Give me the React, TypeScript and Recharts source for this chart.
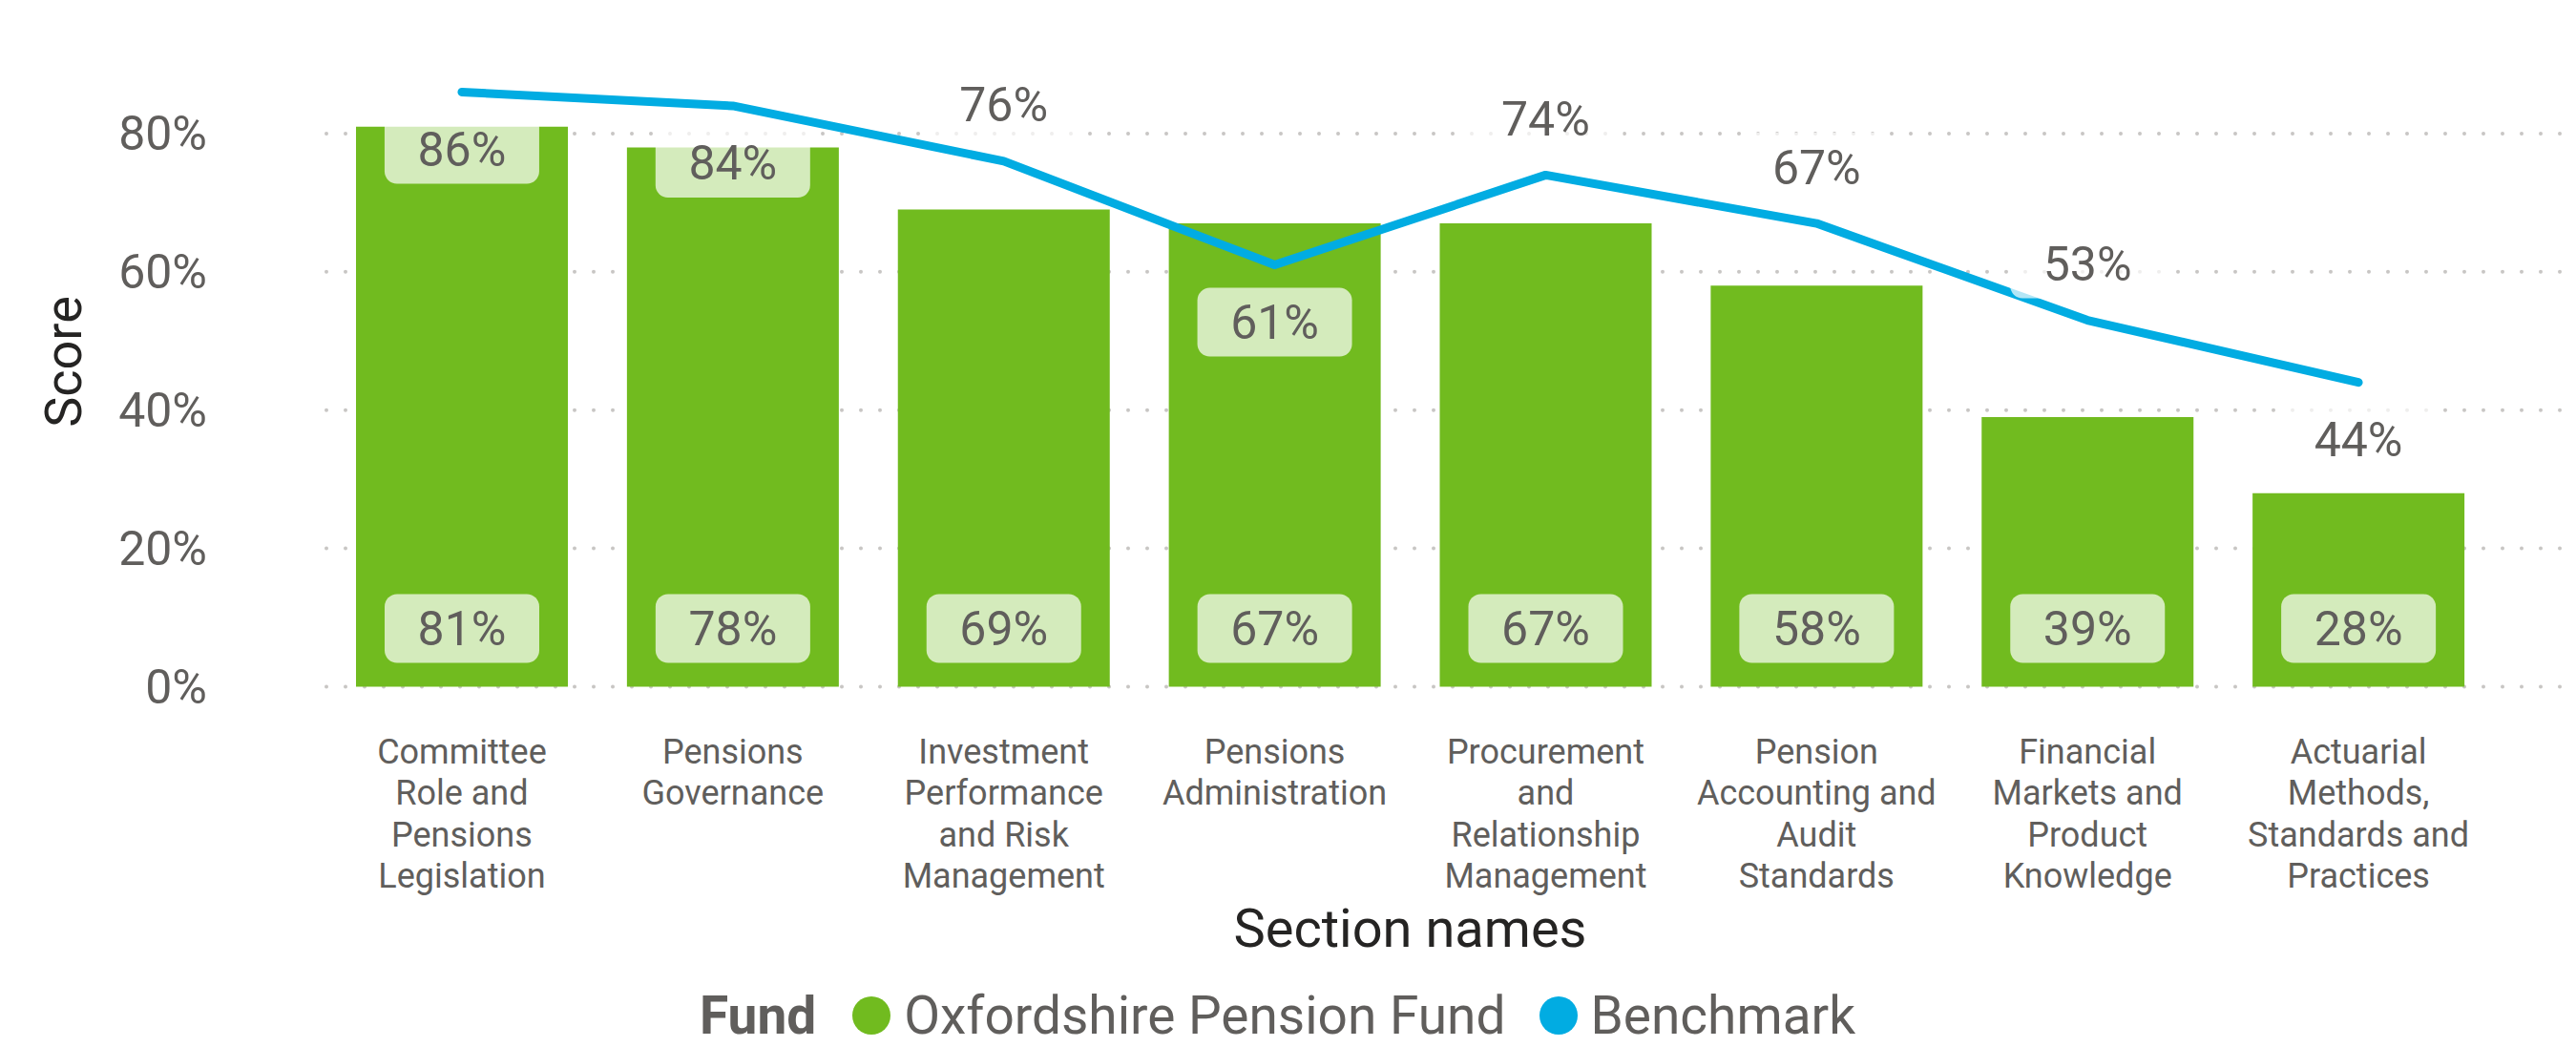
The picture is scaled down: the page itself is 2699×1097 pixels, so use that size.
import React from 'react';
import {
  ComposedChart,
  Bar,
  Line,
  XAxis,
  YAxis,
  CartesianGrid,
  LabelList,
  Legend,
  Label,
} from 'recharts';

// ---------- data ----------
const categoryLines: string[][] = [
  ['Committee', 'Role and', 'Pensions', 'Legislation'],
  ['Pensions', 'Governance'],
  ['Investment', 'Performance', 'and Risk', 'Management'],
  ['Pensions', 'Administration'],
  ['Procurement', 'and', 'Relationship', 'Management'],
  ['Pension', 'Accounting and', 'Audit', 'Standards'],
  ['Financial', 'Markets and', 'Product', 'Knowledge'],
  ['Actuarial', 'Methods,', 'Standards and', 'Practices'],
];
const categories: string[] = categoryLines.map((l) => l.join(' '));
const fundScores: number[] = [81, 78, 69, 67, 67, 58, 39, 28];
const benchmarkScores: number[] = [86, 84, 76, 61, 74, 67, 53, 44];
const yTicks: number[] = [0, 20, 40, 60, 80];

const seriesNames = { fund: 'Oxfordshire Pension Fund', benchmark: 'Benchmark' };
const legendOrder: string[] = [seriesNames.fund, seriesNames.benchmark];
const legendTitle = 'Fund';
const xTitle = 'Section names';
const yTitle = 'Score';

const data = categories.map((name, i) => ({
  name,
  fund: fundScores[i],
  benchmark: benchmarkScores[i],
}));

// ---------- style ----------
const FONT = 'Roboto, "Noto Sans", sans-serif';
const FUND_COLOR = '#71bb1f';
const BENCH_COLOR = '#01ace2';
const LABEL_COLOR = '#605e5c';
const TITLE_COLOR = '#252423';
const W = 2699;
const H = 1097;
const RIGHT_PAD = 86;

const pct = (v: number) => `${v}%`;

const ValueBox = ({ cx, cy, text }: any) => (
  <g>
    <rect x={cx - 81} y={cy - 36} width={162} height={72} rx={13} ry={13} fill="#ffffff" fillOpacity={0.7} />
    <text x={cx} y={cy} dy="0.35em" textAnchor="middle" fontSize={50} fill={LABEL_COLOR} fontFamily={FONT}>
      {text}
    </text>
  </g>
);

const FundLabel = (props: any) => {
  const x = props.x ?? props.viewBox?.x;
  const y = props.y ?? props.viewBox?.y;
  const width = props.width ?? props.viewBox?.width;
  const height = props.height ?? props.viewBox?.height;
  if (x == null || y == null) return null;
  return <ValueBox cx={x + width / 2} cy={y + height - 61} text={pct(props.value)} />;
};

// place the benchmark label below the point when it is near the top or at a valley
const benchLabelBelow = (i: number) => {
  const v = benchmarkScores[i];
  if (v >= 80) return true;
  const prev = benchmarkScores[i - 1];
  const next = benchmarkScores[i + 1];
  return (prev === undefined || v < prev) && (next === undefined || v < next);
};

const BenchLabel = (props: any) => {
  const { x, y, value, index } = props;
  if (x == null || y == null) return null;
  const below = benchLabelBelow(index);
  return <ValueBox cx={x} cy={below ? y + 60 : y - 59} text={pct(value)} />;
};

const XTick = (props: any) => {
  const { x, y, payload } = props;
  const lines = categoryLines[payload.index] || [String(payload.value)];
  return (
    <text x={x} y={y} textAnchor="middle" fontSize={36} fill={LABEL_COLOR} fontFamily={FONT}>
      {lines.map((l, i) => (
        <tspan key={i} x={x} dy={i === 0 ? 80.5 : 43.3}>
          {l}
        </tspan>
      ))}
    </text>
  );
};

const YTick = (props: any) => {
  const { x, y, payload } = props;
  return (
    <text x={x} y={y} dy="0.35em" textAnchor="end" fontSize={50} fill={LABEL_COLOR} fontFamily={FONT}>
      {pct(payload.value)}
    </text>
  );
};

const YTitle = (props: any) => {
  const vb = props.viewBox || {};
  const cx = 66;
  const cy = (vb.y ?? 0) + (vb.height ?? 0) / 2;
  return (
    <text
      x={cx}
      y={cy}
      dy="0.35em"
      textAnchor="middle"
      transform={`rotate(-90, ${cx}, ${cy})`}
      fontSize={54}
      fill={TITLE_COLOR}
      fontFamily={FONT}
    >
      {yTitle}
    </text>
  );
};

const XTitle = (props: any) => {
  const vb = props.viewBox || {};
  const cx = (vb.x ?? 0) + ((vb.width ?? 0) - RIGHT_PAD) / 2;
  const cy = (vb.y ?? 0) + 252.5;
  return (
    <text x={cx} y={cy} dy="0.35em" textAnchor="middle" fontSize={56} fill={TITLE_COLOR} fontFamily={FONT}>
      {xTitle}
    </text>
  );
};

const GridLine = (p: any) => {
  // skip the plot-area border line at the top (not a tick)
  if (p.y != null && Math.abs(p.y1 - p.y) < 2) return <g key={`g-${p.y1}`} />;
  return (
    <line
      key={`g-${p.y1}`}
      x1={p.x1}
      x2={p.x2}
      y1={p.y1}
      y2={p.y2}
      stroke="#c8c6c4"
      strokeWidth={4}
      strokeDasharray="0 20"
      strokeLinecap="round"
    />
  );
};

const LegendContent = (props: any) => {
  const items = ([...(props.payload || [])] as any[]).sort(
    (a, b) => legendOrder.indexOf(a.value) - legendOrder.indexOf(b.value)
  );
  return (
    <div
      style={{
        display: 'flex',
        alignItems: 'center',
        fontFamily: FONT,
        fontSize: 55,
        color: LABEL_COLOR,
        height: 60,
        lineHeight: '60px',
        whiteSpace: 'nowrap',
      }}
    >
      <span style={{ fontWeight: 700, marginRight: 38 }}>{legendTitle}</span>
      {items.map((it, i) => (
        <span key={i} style={{ display: 'flex', alignItems: 'center', marginRight: 35 }}>
          <span
            style={{
              width: 40,
              height: 40,
              borderRadius: '50%',
              background: it.color,
              marginRight: 14,
              display: 'inline-block',
            }}
          />
          <span>{it.value}</span>
        </span>
      ))}
    </div>
  );
};

export default function App() {
  return (
    <div style={{ position: 'fixed', left: 0, top: 0, width: W, height: H, background: '#ffffff' }}>
      <ComposedChart
        width={W}
        height={H}
        data={data}
        margin={{ top: 38.5, right: 0, bottom: 0, left: 0 }}
      >
        <CartesianGrid vertical={false} horizontal={GridLine as any} />
        <XAxis
          dataKey="name"
          type="category"
          height={377.5}
          axisLine={false}
          tickLine={false}
          tickSize={0}
          tickMargin={0}
          interval={0}
          padding={{ left: 0, right: RIGHT_PAD }}
          tick={<XTick />}
        >
          <Label content={<XTitle />} />
        </XAxis>
        <YAxis
          type="number"
          width={342}
          domain={[0, 94]}
          ticks={yTicks}
          axisLine={false}
          tickLine={false}
          tickSize={0}
          tickMargin={125}
          tick={<YTick />}
        >
          <Label content={<YTitle />} />
        </YAxis>
        <Legend
          layout="horizontal"
          verticalAlign="middle"
          align="center"
          content={<LegendContent />}
          wrapperStyle={{ position: 'absolute', left: 733, top: 1034, width: 1500, height: 60 }}
        />
        <Bar
          dataKey="fund"
          name={seriesNames.fund}
          fill={FUND_COLOR}
          barSize={222}
          legendType="circle"
          isAnimationActive={false}
        >
          <LabelList dataKey="fund" content={<FundLabel />} />
        </Bar>
        <Line
          dataKey="benchmark"
          name={seriesNames.benchmark}
          type="linear"
          stroke={BENCH_COLOR}
          strokeWidth={9}
          strokeLinecap="round"
          strokeLinejoin="round"
          dot={false}
          activeDot={false}
          legendType="circle"
          isAnimationActive={false}
        >
          <LabelList dataKey="benchmark" content={<BenchLabel />} />
        </Line>
      </ComposedChart>
    </div>
  );
}
